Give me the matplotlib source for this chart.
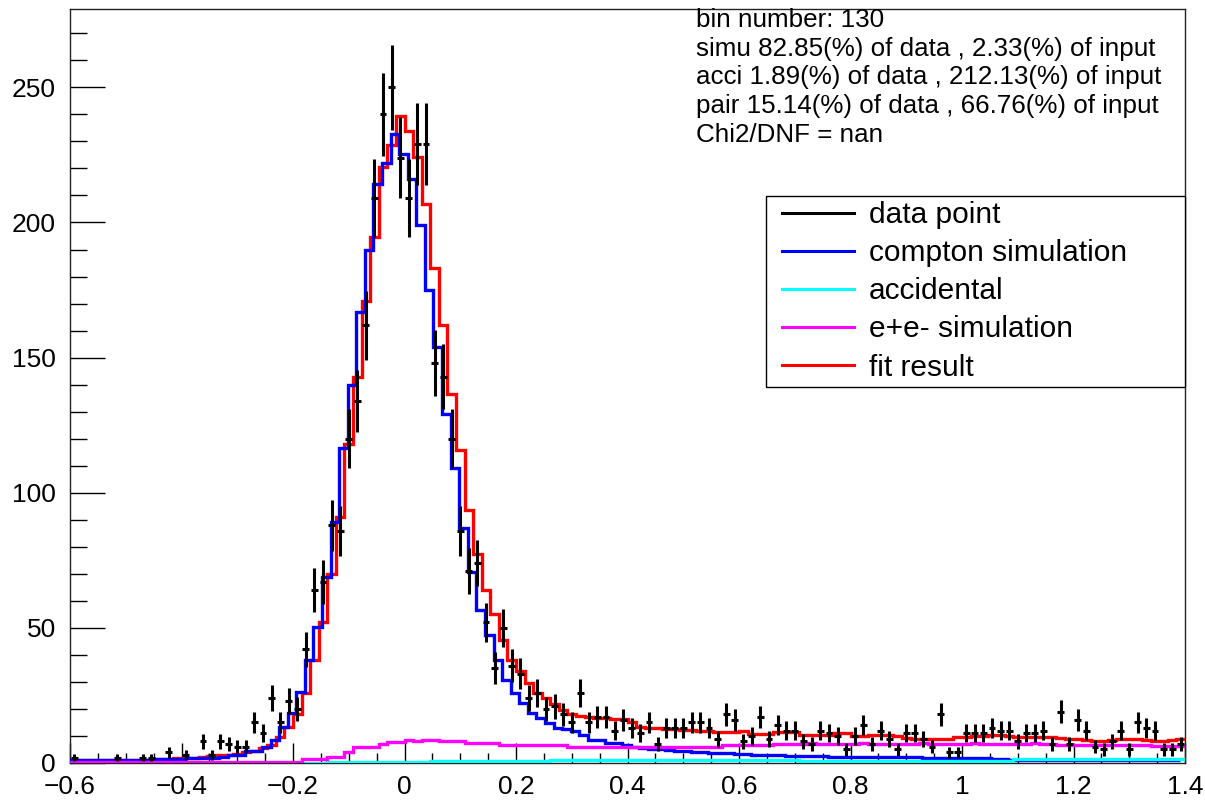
import numpy as np
import matplotlib
matplotlib.use("Agg")
import matplotlib.pyplot as plt
from matplotlib.lines import Line2D
from matplotlib.patches import Rectangle
from matplotlib.ticker import MultipleLocator

plt.rcParams['font.family'] = ['Liberation Sans', 'DejaVu Sans']

# ---------------- data (130 bins from -0.6 to 1.4) ----------------
x_min, x_max, n_bins = -0.6, 1.4, 130

data_counts = [
    2, 0, 0, 0, 0, 2, 0, 0, 2, 2,
    0, 4, 0, 3, 0, 8, 3, 8, 7, 6,
    6, 15, 11, 24, 15, 23, 20, 42, 64, 67,
    88, 86, 120, 134, 162, 209, 240, 250, 224, 209,
    229, 229, 148, 143, 120, 86, 71, 74, 52, 35,
    50, 36, 33, 24, 26, 20, 21, 18, 15, 26,
    15, 17, 17, 12, 16, 13, 11, 15, 7, 13,
    13, 13, 15, 15, 13, 9, 18, 16, 8, 10,
    17, 9, 14, 12, 12, 8, 7, 12, 11, 10,
    5, 10, 14, 7, 12, 9, 5, 11, 11, 9,
    6, 18, 4, 4, 11, 11, 11, 13, 12, 12,
    8, 11, 11, 12, 7, 19, 7, 16, 12, 6,
    5, 8, 12, 5, 15, 13, 12, 5, 5, 7,
]

compton_sim = [
    1.2, 1.2, 1.2, 1.2, 1.2, 1.2, 1.2, 1.2, 1.2, 1.2,
    1.3, 1.4, 1.5, 1.6, 1.8, 2.0, 2.0, 2.0, 2.2, 3.0,
    3.0, 4.5, 4.5, 6.0, 8.5, 13.4, 18.4, 26.4, 38.1, 50.4,
    68.9, 89.2, 116.4, 139.8, 166.9, 189.7, 214.4, 222.0, 232.9, 225.5,
    216.2, 199.0, 175.0, 154.0, 129.3, 109.0, 86.8, 70.7, 56.6, 47.3,
    38.1, 30.7, 25.8, 22.1, 18.4, 16.5, 14.7, 12.8, 12.5, 12.0,
    10.5, 8.5, 8.5, 7.5, 7.3, 6.5, 6.0, 5.5, 5.0, 5.0,
    4.8, 4.5, 4.4, 4.2, 4.0, 3.8, 3.6, 3.6, 3.4, 3.2,
    3.0, 3.0, 2.8, 2.8, 2.7, 2.7, 2.6, 2.6, 2.5, 2.4,
    2.3, 2.3, 2.3, 2.3, 2.3, 2.3, 2.2, 2.2, 2.1, 2.1,
    2.0, 2.0, 1.9, 1.9, 1.8, 1.8, 1.7, 1.7, 1.6, 1.6,
    1.2, 1.2, 1.2, 1.2, 1.2, 1.2, 1.2, 1.2, 1.2, 1.2,
    1.2, 1.2, 1.2, 1.2, 1.2, 1.2, 1.2, 1.2, 1.2, 1.2,
]

accidental = [
    0.0, 0.0, 0.0, 0.0, 0.0, 0.0, 0.0, 0.0, 0.0, 0.0,
    0.0, 0.0, 0.0, 0.0, 0.0, 0.0, 0.0, 0.0, 0.0, 0.0,
    0.0, 0.0, 0.0, 0.0, 0.0, 0.0, 0.0, 0.0, 0.0, 0.0,
    0.5, 0.5, 0.5, 0.5, 0.5, 0.5, 0.5, 0.5, 0.5, 0.5,
    0.5, 0.5, 0.8, 0.8, 0.8, 0.8, 0.8, 0.8, 0.8, 0.8,
    0.8, 0.8, 0.8, 0.8, 0.8, 0.8, 1.2, 1.2, 1.0, 1.2,
    1.2, 1.2, 1.0, 1.2, 1.2, 1.2, 1.2, 1.0, 1.2, 1.2,
    1.2, 1.2, 1.2, 1.0, 1.2, 1.2, 1.2, 1.2, 1.2, 1.0,
    1.2, 1.2, 1.2, 1.2, 1.2, 0.9, 0.9, 0.9, 0.9, 0.9,
    0.9, 0.9, 0.9, 0.9, 0.9, 0.9, 0.9, 0.9, 0.9, 0.9,
    0.9, 0.9, 0.9, 0.9, 0.9, 0.9, 0.9, 0.9, 0.9, 0.9,
    1.3, 1.3, 1.3, 1.3, 1.3, 1.3, 1.3, 1.3, 1.3, 1.3,
    1.3, 1.3, 1.3, 1.3, 1.3, 1.3, 1.3, 1.3, 1.3, 1.3,
]

pair_sim = [
    0.4, 0.4, 0.4, 0.4, 0.4, 0.4, 0.4, 0.4, 0.4, 0.4,
    0.4, 0.4, 0.4, 0.4, 0.4, 0.4, 0.4, 0.4, 0.4, 0.4,
    0.4, 0.4, 0.4, 0.4, 0.4, 0.4, 0.4, 1.4, 1.4, 1.4,
    2.3, 2.3, 4.2, 6.0, 6.0, 6.0, 7.0, 7.9, 7.9, 8.5,
    8.2, 8.5, 8.5, 8.3, 8.3, 8.3, 7.5, 7.5, 7.5, 7.5,
    6.7, 6.7, 6.7, 6.7, 6.7, 6.7, 6.7, 6.7, 5.8, 5.8,
    5.8, 5.8, 5.8, 5.8, 5.8, 5.8, 6.0, 6.0, 6.0, 6.0,
    6.0, 6.0, 6.0, 6.0, 6.0, 6.0, 6.7, 6.7, 6.7, 6.7,
    6.7, 6.7, 7.2, 7.2, 7.0, 7.2, 7.4, 7.2, 7.2, 7.0,
    7.2, 7.2, 7.4, 7.2, 7.2, 7.0, 7.2, 7.2, 7.2, 7.4,
    7.2, 7.2, 7.0, 7.2, 7.2, 7.4, 7.2, 7.2, 7.0, 7.2,
    7.2, 7.2, 7.4, 7.2, 7.2, 6.7, 6.7, 6.7, 6.7, 6.7,
    6.7, 6.7, 6.7, 6.7, 6.7, 6.7, 6.2, 6.2, 6.2, 6.2,
]

fit_result = [
    1.2, 1.2, 1.2, 1.2, 1.2, 1.2, 1.2, 1.2, 1.2, 1.2,
    1.4, 1.6, 1.7, 1.8, 2.0, 2.3, 2.5, 2.8, 3.0, 3.5,
    4.0, 4.5, 5.5, 6.7, 9.7, 13.4, 18.0, 26.0, 38.0, 52.0,
    70.0, 91.0, 118.0, 143.0, 171.0, 194.6, 220.5, 228.5, 239.5, 233.8,
    224.2, 207.0, 183.0, 162.0, 136.7, 115.8, 93.6, 77.5, 64.0, 55.0,
    45.5, 38.0, 34.0, 29.5, 26.0, 24.0, 22.0, 19.5, 18.0, 17.5,
    17.0, 16.8, 16.5, 16.3, 16.3, 15.0, 13.5, 13.0, 12.8, 12.6,
    12.5, 12.3, 12.2, 12.0, 11.8, 11.5, 11.3, 11.3, 12.0, 10.8,
    10.8, 10.8, 11.6, 11.6, 11.6, 10.4, 10.4, 10.4, 10.4, 11.2,
    11.2, 10.0, 10.0, 10.4, 10.4, 10.4, 10.0, 9.2, 9.0, 8.8,
    8.8, 8.8, 9.0, 9.5, 9.5, 10.0, 10.0, 10.2, 10.2, 10.0,
    9.8, 9.8, 9.6, 9.6, 9.6, 9.2, 8.8, 8.8, 8.5, 8.0,
    8.0, 8.4, 9.0, 9.0, 8.8, 8.4, 8.0, 8.2, 8.6, 8.8,
]

info_lines = [
    "bin number: 130",
    "simu 82.85(%) of data , 2.33(%) of input",
    "acci 1.89(%) of data , 212.13(%) of input",
    "pair 15.14(%) of data , 66.76(%) of input",
    "Chi2/DNF = nan",
]
legend_labels = ["data point", "compton simulation", "accidental",
                 "e+e- simulation", "fit result"]

# ---------------- figure ----------------
W, H = 1205, 800
fig = plt.figure(figsize=(W / 100, H / 100), dpi=100)
ax_l, ax_r, ax_t, ax_b = 70, 1185, 9, 763
ax = fig.add_axes([ax_l / W, (H - ax_b) / H, (ax_r - ax_l) / W, (ax_b - ax_t) / H])

def ax_fx(px):
    return (px - ax_l) / (ax_r - ax_l)

def ax_fy(py):
    return (ax_b - py) / (ax_b - ax_t)

edges = np.linspace(x_min, x_max, n_bins + 1)
bw = edges[1] - edges[0]
centers = 0.5 * (edges[:-1] + edges[1:])
blue_shift = -0.62 * bw  # simulation histogram drawn slightly offset

lw = 2.4
ax.stairs(fit_result, edges, color=(1, 0, 0), lw=lw, baseline=None, zorder=3)
ax.stairs(compton_sim, edges + blue_shift, color=(0, 0, 1), lw=lw, baseline=None, zorder=4)
ax.stairs(accidental, edges, color=(0, 1, 1), lw=lw, baseline=None, zorder=4.5)
ax.stairs(pair_sim, edges, color=(1, 0, 1), lw=lw, baseline=None, zorder=4.6)

d = np.array(data_counts, dtype=float)
m = d > 0
ax.errorbar(centers[m], d[m], yerr=np.sqrt(d[m]), xerr=0.4 * bw, fmt='none',
            ecolor='black', elinewidth=2.2, capsize=0, zorder=5)

ax.set_xlim(x_min, x_max)
ax.set_ylim(0, 279)

ax.xaxis.set_major_locator(MultipleLocator(0.2))
ax.xaxis.set_minor_locator(MultipleLocator(0.05))
ax.yaxis.set_major_locator(MultipleLocator(50))
ax.yaxis.set_minor_locator(MultipleLocator(10))

def fmt_x(v, pos):
    if abs(v) < 1e-9:
        return "0"
    s = ("%.1f" % v).rstrip('0').rstrip('.')
    return s.replace('-', '\u2212')
ax.xaxis.set_major_formatter(plt.FuncFormatter(fmt_x))

ax.tick_params(axis='x', which='major', direction='in', length=14.4, width=1.0,
               labelsize=19, pad=9, top=False)
ax.tick_params(axis='x', which='minor', direction='in', length=7.2, width=1.0, top=False)
ax.tick_params(axis='y', which='major', direction='in', length=25.2, width=1.0,
               labelsize=19, pad=10, right=False)
ax.tick_params(axis='y', which='minor', direction='in', length=12.2, width=1.0, right=False)
for s in ax.spines.values():
    s.set_linewidth(1.0)
    s.set_color('#222222')

# info text
baselines = [27, 55.7, 84.4, 113, 141.8]
for txt, yb in zip(info_lines, baselines):
    fig.text(696 / W, 1 - yb / H, txt, fontsize=18.7, ha='left', va='baseline',
             color='black', zorder=10)

# legend: frame box + entries
box = Rectangle((ax_fx(766), ax_fy(387)), ax_fx(1185) - ax_fx(766),
                ax_fy(196) - ax_fy(387), transform=ax.transAxes,
                facecolor='white', edgecolor='black', lw=1.0, zorder=8,
                clip_on=False)
ax.add_patch(box)
handles = [Line2D([], [], color=c, lw=2.2) for c in
           ['black', (0, 0, 1), (0, 1, 1), (1, 0, 1), (1, 0, 0)]]
leg = ax.legend(handles, legend_labels, loc='upper left',
                bbox_to_anchor=(ax_fx(782), ax_fy(201)),
                borderaxespad=0, frameon=False, borderpad=0,
                fontsize=21.5, labelspacing=0.34,
                handlelength=2.4, handletextpad=0.5)
leg.set_zorder(9)

fig.savefig("out.png", dpi=100)
